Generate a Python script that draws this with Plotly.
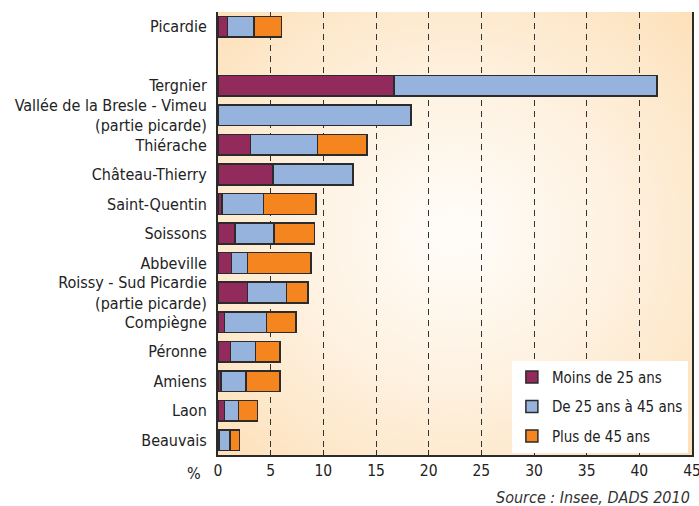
import base64
import plotly.graph_objects as go

categories = [
    "Picardie", " ", "Tergnier",
    "Vallée de la Bresle - Vimeu<br>(partie picarde)",
    "Thiérache", "Château-Thierry", "Saint-Quentin", "Soissons", "Abbeville",
    "Roissy - Sud Picardie<br>(partie picarde)",
    "Compiègne", "Péronne", "Amiens", "Laon", "Beauvais",
]
moins_25 = [0.9, None, 16.7, 0.0, 3.1, 5.2, 0.4, 1.6, 1.3, 2.8, 0.6, 1.2, 0.3, 0.6, 0.1]
de_25_45 = [2.5, None, 25.0, 18.3, 6.35, 7.6, 3.9, 3.7, 1.5, 3.7, 4.0, 2.35, 2.35, 1.35, 1.05]
plus_45 = [2.65, None, 0.0, 0.0, 4.7, 0.0, 5.0, 3.85, 6.05, 2.05, 2.8, 2.35, 3.25, 1.8, 0.9]

series_names = ["Moins de 25 ans", "De 25 ans à 45 ans", "Plus de 45 ans"]
series_values = [moins_25, de_25_45, plus_45]
colors = ["#922b5c", "#95b3dc", "#f5861f"]

x_ticks = [0, 5, 10, 15, 20, 25, 30, 35, 40, 45]

FONT = "DejaVu Sans Condensed, Liberation Sans Narrow, sans-serif"

fig = go.Figure()
for i, (name, vals, col) in enumerate(zip(series_names, series_values, colors)):
    fig.add_trace(go.Bar(
        y=categories, x=vals, name=name, orientation="h",
        marker=dict(color=col, line=dict(color="#2b2b2b", width=1.5)),
        width=0.7, legendgroup=f"g{i}",
    ))

svg = ('<svg xmlns="http://www.w3.org/2000/svg" width="474" height="443">'
       '<defs><radialGradient id="g" cx="0.5" cy="0.5" r="0.72">'
       '<stop offset="0" stop-color="#fffdf9"/>'
       '<stop offset="0.45" stop-color="#fef2e2"/>'
       '<stop offset="1" stop-color="#fde0b8"/>'
       '</radialGradient></defs>'
       '<rect width="474" height="443" fill="url(#g)"/></svg>')
src = "data:image/svg+xml;base64," + base64.b64encode(svg.encode()).decode()

fig.update_layout(
    width=699, height=506,
    margin=dict(l=218, r=7, t=12, b=51, autoexpand=False),
    barmode="stack",
    paper_bgcolor="white",
    plot_bgcolor="rgba(0,0,0,0)",
    font=dict(family=FONT, size=15, color="#222222"),
    images=[dict(source=src, xref="paper", yref="paper", x=0, y=1,
                 sizex=1, sizey=1, sizing="stretch", xanchor="left",
                 yanchor="top", layer="below")],
    legend=dict(
        x=0.62, y=0.005, xanchor="left", yanchor="bottom",
        bgcolor="white", borderwidth=0, tracegroupgap=7, itemwidth=30,
        font=dict(family=FONT, size=15, color="#222222"),
        traceorder="grouped",
    ),
    showlegend=True,
)
fig.update_xaxes(
    range=[0, 45], tickvals=x_ticks, ticktext=[str(v) for v in x_ticks],
    showgrid=True, gridcolor="#333333", gridwidth=1.3, griddash="6px,5px",
    zeroline=False, showline=True, linecolor="#2b2b2b", linewidth=2,
    ticks="inside", ticklen=5, tickcolor="#2b2b2b", tickwidth=1.2,
    tickfont=dict(family=FONT, size=15.5, color="#222222"),
    ticklabeloverflow="allow", automargin=False,
    fixedrange=True,
)
fig.update_yaxes(
    type="category", categoryorder="array", categoryarray=categories,
    autorange="reversed", showgrid=False, zeroline=False,
    showline=True, linecolor="#2b2b2b", linewidth=2, mirror=True,
    ticks="", ticklabelstandoff=6, automargin=False,
    tickfont=dict(family=FONT, size=16, color="#222222"),
    fixedrange=True,
)
fig.add_annotation(text="%", xref="paper", yref="paper", x=-0.032, y=-0.016,
                   xanchor="right", yanchor="top", showarrow=False,
                   font=dict(family=FONT, size=16, color="#222222"))
fig.add_annotation(text="<i>Source : Insee, DADS 2010</i>", xref="paper", yref="paper",
                   x=1.0, y=-0.07, xanchor="right", yanchor="top", showarrow=False,
                   font=dict(family=FONT, size=16, color="#333333"))

fig.write_html("out.html", config={"displayModeBar": False},
               post_script="document.body.style.margin='0';document.body.style.overflow='hidden';")
